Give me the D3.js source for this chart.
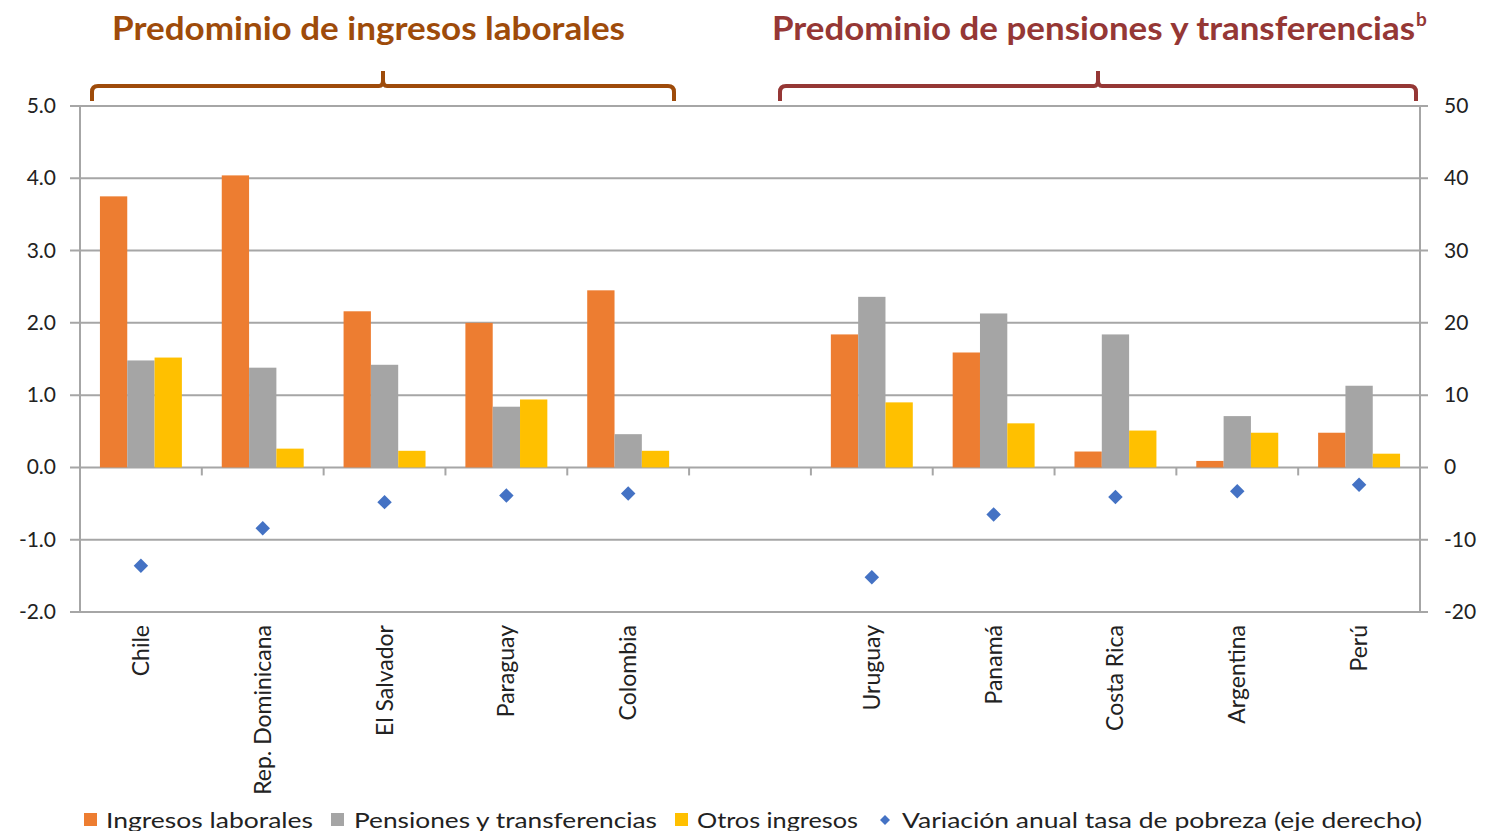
<!DOCTYPE html>
<html>
<head>
<meta charset="utf-8">
<script src="https://cdn.jsdelivr.net/npm/d3@7"></script>
<style>
  body { margin: 0; background: #fff; }
  text { font-family: Lato, "Open Sans", sans-serif; }
</style>
</head>
<body>
<svg id="grafico" width="1486" height="831"></svg>
<script>

// Datos
const paises = ["Chile", "Rep. Dominicana", "El Salvador", "Paraguay", "Colombia", "",
    "Uruguay", "Panamá", "Costa Rica", "Argentina", "Perú"];
const ingresosLaborales = [3.75, 4.04, 2.16, 2.00, 2.45, null, 1.84, 1.59, 0.22, 0.09, 0.48];
const pensionesTransferencias = [1.48, 1.38, 1.42, 0.84, 0.46, null, 2.36, 2.13, 1.84, 0.71, 1.13];
const otrosIngresos = [1.52, 0.26, 0.23, 0.94, 0.23, null, 0.90, 0.61, 0.51, 0.48, 0.19];
const variacionPobreza = [-13.6, -8.4, -4.8, -3.9, -3.6, null, -15.2, -6.5, -4.1, -3.3, -2.4];

const ticksIzq = [-2, -1, 0, 1, 2, 3, 4, 5];
const ticksDer = [-20, -10, 0, 10, 20, 30, 40, 50];

const series = [
    { nombre: "Ingresos laborales", valores: ingresosLaborales, color: "#ED7D31" },
    { nombre: "Pensiones y transferencias", valores: pensionesTransferencias, color: "#A5A5A5" },
    { nombre: "Otros ingresos", valores: otrosIngresos, color: "#FFC000" }
];

const margen = { left: 80, right: 1420, top: 106, bottom: 612 };

const svg = d3.select("#grafico");

const x = d3.scaleBand().domain(d3.range(paises.length)).range([margen.left, margen.right]);
const xSub = d3.scaleBand().domain(d3.range(series.length))
    .range([0, x.bandwidth()]).paddingOuter(0.73).paddingInner(0);
const y = d3.scaleLinear().domain([-2, 5]).range([margen.bottom, margen.top]);
const y2 = d3.scaleLinear().domain([-20, 50]).range([margen.bottom, margen.top]);

const gris = "#A6A6A6";

//Lineas de cuadricula
svg.append("g")
    .selectAll("line")
    .data(ticksIzq)
    .join("line")
        .attr("x1", margen.left - 10)
        .attr("x2", margen.right + 8)
        .attr("y1", d => y(d))
        .attr("y2", d => y(d))
        .attr("stroke", gris)
        .attr("stroke-width", 2);

//Ejes verticales
[margen.left, margen.right].forEach(px => {
    svg.append("line")
        .attr("x1", px).attr("x2", px)
        .attr("y1", margen.top).attr("y2", margen.bottom)
        .attr("stroke", gris).attr("stroke-width", 2);
});

//Marcas de categoria sobre la linea de cero
svg.append("g")
    .selectAll("line")
    .data(d3.range(1, paises.length))
    .join("line")
        .attr("x1", d => x(d))
        .attr("x2", d => x(d))
        .attr("y1", y(0))
        .attr("y2", y(0) + 8)
        .attr("stroke", gris)
        .attr("stroke-width", 2);

//Etiquetas eje izquierdo (con guion, como en el original)
svg.append("g")
    .selectAll("text")
    .data(ticksIzq)
    .join("text")
        .attr("x", 56)
        .attr("y", d => y(d) + 7)
        .attr("text-anchor", "end")
        .attr("font-size", 21)
        .attr("fill", "#222")
        .text(d => d3.format(".1f")(d).replace("−", "-"));

//Etiquetas eje derecho
svg.append("g")
    .selectAll("text")
    .data(ticksDer)
    .join("text")
        .attr("x", 1444)
        .attr("y", d => y2(d) + 7)
        .attr("font-size", 21)
        .attr("fill", "#222")
        .text(d => d);

//Barras
const grupos = svg.append("g")
    .selectAll("g")
    .data(series)
    .join("g")
        .attr("fill", d => d.color);

grupos.each(function (serie, i) {
    d3.select(this).selectAll("rect")
        .data(serie.valores.map((v, j) => ({ v, j })).filter(d => d.v !== null))
        .join("rect")
            .attr("x", d => x(d.j) + xSub(i))
            .attr("width", xSub.bandwidth())
            .attr("y", d => y(Math.max(0, d.v)))
            .attr("height", d => Math.abs(y(d.v) - y(0)));
});

//Rombos de variacion de la pobreza (cuadrado girado 45 grados)
const rombo = d3.symbol().type(d3.symbolSquare).size(105);
svg.append("g")
    .selectAll("path")
    .data(variacionPobreza.map((v, j) => ({ v, j })).filter(d => d.v !== null))
    .join("path")
        .attr("d", rombo)
        .attr("transform", d => `translate(${x(d.j) + x.bandwidth() / 2},${y2(d.v)}) rotate(45)`)
        .attr("fill", "#4472C4");

//Etiquetas de paises (verticales)
svg.append("g")
    .selectAll("text")
    .data(paises.map((p, j) => ({ p, j })).filter(d => d.p !== ""))
    .join("text")
        .attr("transform", d => `translate(${x(d.j) + x.bandwidth() / 2 + 8},625) rotate(-90)`)
        .attr("text-anchor", "end")
        .attr("font-size", 23)
        .attr("fill", "#222")
        .text(d => d.p);

//Titulos y llaves
const bloques = [
    { texto: "Predominio de ingresos laborales", sup: "", color: "#9E4B0A", xTexto: 112, ancho: 513, x1: 92, x2: 674 },
    { texto: "Predominio de pensiones y transferencias", sup: "b", color: "#953735", xTexto: 772, ancho: 643, x1: 780, x2: 1416 }
];

bloques.forEach(b => {
    svg.append("text")
        .attr("x", b.xTexto)
        .attr("y", 40)
        .attr("font-size", 32)
        .attr("font-weight", "bold")
        .attr("fill", b.color)
        .attr("textLength", b.ancho)
        .attr("lengthAdjust", "spacingAndGlyphs")
        .text(b.texto);
    if (b.sup) {
        svg.append("text")
            .attr("x", b.xTexto + b.ancho + 1)
            .attr("y", 26)
            .attr("font-size", 19)
            .attr("font-weight", "bold")
            .attr("fill", b.color)
            .text(b.sup);
    }
    const medio = (b.x1 + b.x2) / 2;
    const r = 6;
    const path = d3.path();
    path.moveTo(b.x1, 101);
    path.lineTo(b.x1, 86 + r);
    path.quadraticCurveTo(b.x1, 86, b.x1 + r, 86);
    path.lineTo(medio - 4, 86);
    path.quadraticCurveTo(medio, 86, medio, 80);
    path.lineTo(medio, 71);
    path.moveTo(medio, 80);
    path.quadraticCurveTo(medio, 86, medio + 4, 86);
    path.lineTo(b.x2 - r, 86);
    path.quadraticCurveTo(b.x2, 86, b.x2, 86 + r);
    path.lineTo(b.x2, 101);
    svg.append("path")
        .attr("d", path.toString())
        .attr("fill", "none")
        .attr("stroke", b.color)
        .attr("stroke-width", 4);
});

//Leyenda
const leyenda = [
    { nombre: "Ingresos laborales", color: "#ED7D31", tipo: "cuadro", xs: 84, xt: 106, ancho: 207 },
    { nombre: "Pensiones y transferencias", color: "#A5A5A5", tipo: "cuadro", xs: 331, xt: 354, ancho: 303 },
    { nombre: "Otros ingresos", color: "#FFC000", tipo: "cuadro", xs: 675, xt: 697, ancho: 161 },
    { nombre: "Variación anual tasa de pobreza (eje derecho)", color: "#4472C4", tipo: "rombo", xs: 885, xt: 902, ancho: 520 }
];

const itemLeyenda = svg.append("g")
    .selectAll("g")
    .data(leyenda)
    .join("g");

itemLeyenda.filter(d => d.tipo === "cuadro")
    .append("rect")
        .attr("x", d => d.xs)
        .attr("y", 813)
        .attr("width", 13)
        .attr("height", 13)
        .attr("fill", d => d.color);

itemLeyenda.filter(d => d.tipo === "rombo")
    .append("path")
        .attr("d", d3.symbol().type(d3.symbolSquare).size(50))
        .attr("transform", d => `translate(${d.xs},820) rotate(45)`)
        .attr("fill", d => d.color);

itemLeyenda.append("text")
    .attr("x", d => d.xt)
    .attr("y", 828)
    .attr("font-size", 21)
    .attr("fill", "#222")
    .attr("textLength", d => d.ancho)
    .attr("lengthAdjust", "spacingAndGlyphs")
    .text(d => d.nombre);

</script>
</body>
</html>
